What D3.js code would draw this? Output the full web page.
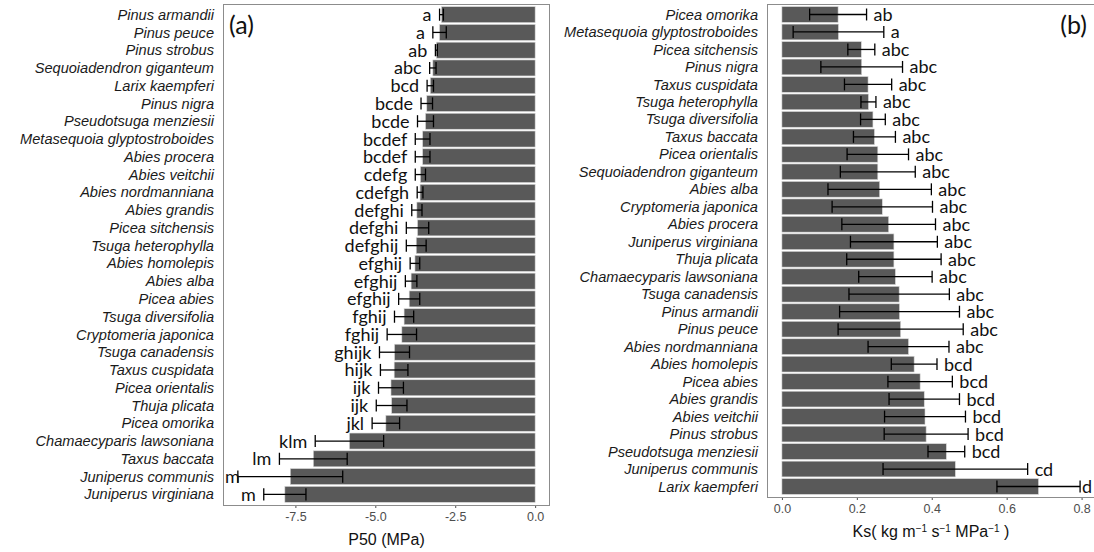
<!DOCTYPE html>
<html>
<head>
<meta charset="utf-8">
<script src="https://cdn.jsdelivr.net/npm/d3@7"></script>
<style>
  body { margin: 0; background: #fff; }
  svg { display: block; }
</style>
</head>
<body>
<div id="chart"></div>
<script>
// panel (a): P50, top to bottom
var speciesA = ["Pinus armandii", "Pinus peuce", "Pinus strobus", "Sequoiadendron giganteum",
  "Larix kaempferi", "Pinus nigra", "Pseudotsuga menziesii", "Metasequoia glyptostroboides",
  "Abies procera", "Abies veitchii", "Abies nordmanniana", "Abies grandis", "Picea sitchensis",
  "Tsuga heterophylla", "Abies homolepis", "Abies alba", "Picea abies", "Tsuga diversifolia",
  "Cryptomeria japonica", "Tsuga canadensis", "Taxus cuspidata", "Picea orientalis",
  "Thuja plicata", "Picea omorika", "Chamaecyparis lawsoniana", "Taxus baccata",
  "Juniperus communis", "Juniperus virginiana"];
var p50Mean = [-2.93, -2.99, -3.09, -3.20, -3.28, -3.39, -3.43, -3.52, -3.52, -3.59, -3.60, -3.70,
  -3.68, -3.72, -3.76, -3.88, -3.94, -4.10, -4.17, -4.40, -4.41, -4.51, -4.49, -4.67, -5.81,
  -6.94, -7.66, -7.83];
var p50Se = [0.06, 0.21, 0.03, 0.10, 0.10, 0.18, 0.25, 0.23, 0.23, 0.16, 0.09, 0.16, 0.35, 0.31,
  0.15, 0.18, 0.33, 0.30, 0.46, 0.47, 0.43, 0.39, 0.48, 0.43, 1.07, 1.06, 1.64, 0.66];
var p50Letters = ["a", "a", "ab", "abc", "bcd", "bcde", "bcde", "bcdef", "bcdef", "cdefg",
  "cdefgh", "defghi", "defghi", "defghij", "efghij", "efghij", "efghij", "fghij", "fghij",
  "ghijk", "hijk", "ijk", "ijk", "jkl", "klm", "lm", "m", "m"];
var p50Ticks = [-7.5, -5.0, -2.5, 0.0];

// panel (b): Ks, top to bottom
var speciesB = ["Picea omorika", "Metasequoia glyptostroboides", "Picea sitchensis", "Pinus nigra",
  "Taxus cuspidata", "Tsuga heterophylla", "Tsuga diversifolia", "Taxus baccata",
  "Picea orientalis", "Sequoiadendron giganteum", "Abies alba", "Cryptomeria japonica",
  "Abies procera", "Juniperus virginiana", "Thuja plicata", "Chamaecyparis lawsoniana",
  "Tsuga canadensis", "Pinus armandii", "Pinus peuce", "Abies nordmanniana", "Abies homolepis",
  "Picea abies", "Abies grandis", "Abies veitchii", "Pinus strobus", "Pseudotsuga menziesii",
  "Juniperus communis", "Larix kaempferi"];
var ksMean = [0.150, 0.151, 0.212, 0.213, 0.230, 0.231, 0.243, 0.247, 0.256, 0.256, 0.261, 0.268,
  0.285, 0.299, 0.299, 0.303, 0.313, 0.314, 0.317, 0.338, 0.353, 0.369, 0.380, 0.382, 0.385,
  0.439, 0.463, 0.685];
var ksSe = [0.076, 0.121, 0.036, 0.109, 0.063, 0.020, 0.033, 0.056, 0.082, 0.100, 0.138, 0.134,
  0.125, 0.116, 0.126, 0.098, 0.134, 0.160, 0.167, 0.108, 0.061, 0.086, 0.094, 0.108, 0.112,
  0.049, 0.193, 0.111];
var ksLetters = ["ab", "a", "abc", "abc", "abc", "abc", "abc", "abc", "abc", "abc", "abc", "abc",
  "abc", "abc", "abc", "abc", "abc", "abc", "abc", "abc", "bcd", "bcd", "bcd", "bcd", "bcd",
  "bcd", "cd", "d"];
var ksTicks = [0.0, 0.2, 0.4, 0.6, 0.8];

var W = 1094, H = 552;
var svg = d3.select("#chart").append("svg")
  .attr("width", W).attr("height", H)
  .style("background", "#fff");

function drawPanel(opt){
  var rows = opt.species.map(function(s, i){
    return {name: s, mean: opt.mean[i], se: opt.se[i], letter: opt.letters[i]};
  });

  // ggplot style 5% expansion
  var lo = Math.min(0, d3.min(rows, function(d){ return d.mean - d.se; }));
  var hi = Math.max(0, d3.max(rows, function(d){ return d.mean + d.se; }));
  var pad = (hi - lo) * 0.05;
  var x = d3.scaleLinear().domain([lo - pad, hi + pad]).range([opt.left, opt.right]);
  var y = d3.scaleBand().domain(opt.species)
    .range([opt.top, opt.bottom]).paddingInner(0.1).paddingOuter(0.15);

  var g = svg.append("g");

  g.selectAll(".bar").data(rows).enter().append("rect")
    .attr("class", "bar")
    .attr("x", function(d){ return Math.min(x(0), x(d.mean)); })
    .attr("width", function(d){ return Math.abs(x(d.mean) - x(0)); })
    .attr("y", function(d){ return y(d.name); })
    .attr("height", y.bandwidth())
    .attr("fill", "#595959")
    .attr("stroke", "#d9d9d9")
    .attr("stroke-width", 0.6);

  var cap = y.bandwidth() * 0.38;
  var eb = g.selectAll(".err").data(rows).enter().append("g").attr("class", "err")
    .attr("stroke", "#000").attr("stroke-width", 1.3);
  eb.append("line")
    .attr("x1", function(d){ return x(d.mean - d.se); })
    .attr("x2", function(d){ return x(d.mean + d.se); })
    .attr("y1", function(d){ return y(d.name) + y.bandwidth() / 2; })
    .attr("y2", function(d){ return y(d.name) + y.bandwidth() / 2; });
  [-1, 1].forEach(function(s){
    eb.append("line")
      .attr("x1", function(d){ return x(d.mean + s * d.se); })
      .attr("x2", function(d){ return x(d.mean + s * d.se); })
      .attr("y1", function(d){ return y(d.name) + y.bandwidth() / 2 - cap; })
      .attr("y2", function(d){ return y(d.name) + y.bandwidth() / 2 + cap; });
  });

  // significance letters
  var lt = g.selectAll(".letter").data(rows).enter().append("text")
    .attr("class", "letter")
    .attr("x", function(d){
      return opt.lettersLeft ? x(d.mean - d.se) - 8 : x(d.mean + d.se) + 7;
    })
    .attr("y", function(d){ return y(d.name) + y.bandwidth() / 2; })
    .attr("dy", "0.36em")
    .attr("text-anchor", opt.lettersLeft ? "end" : "start")
    .style("font-family", "Lato, 'Open Sans', sans-serif")
    .style("font-size", "18px")
    .attr("fill", "#111")
    .text(function(d){ return d.letter; });
  // keep letters inside the panel frame / page
  var maxRight = Math.min(opt.right, W) - 2;
  lt.each(function(){
    var w = this.getComputedTextLength();
    var xa = +this.getAttribute("x");
    if (opt.lettersLeft){
      if (xa - w < opt.left + 2) this.setAttribute("x", opt.left + 2 + w);
    } else {
      if (xa + w > maxRight) this.setAttribute("x", maxRight - w);
    }
  });

  // species labels
  g.selectAll(".ylab").data(rows).enter().append("text")
    .attr("class", "ylab")
    .attr("x", opt.left - 9)
    .attr("y", function(d){ return y(d.name) + y.bandwidth() / 2; })
    .attr("dy", "0.35em")
    .attr("text-anchor", "end")
    .style("font-family", "'Liberation Sans', Arial, sans-serif")
    .style("font-style", "italic")
    .style("font-size", "14.6px")
    .attr("fill", "#1a1a1a")
    .text(function(d){ return d.name; });

  // x axis
  var xAxis = d3.axisBottom(x).tickValues(opt.ticks).tickSize(3).tickPadding(4)
    .tickFormat(function(d){ return d.toFixed(1); });
  var ax = g.append("g").attr("transform", "translate(0," + opt.bottom + ")").call(xAxis);
  ax.select(".domain").remove();
  ax.selectAll(".tick line").attr("stroke", "#4d4d4d");
  ax.selectAll(".tick text")
    .style("font-family", "'Liberation Sans', Arial, sans-serif")
    .style("font-size", "12.5px")
    .attr("fill", "#4d4d4d");

  // frame
  g.append("rect")
    .attr("x", opt.left + 0.5).attr("y", opt.top + 0.5)
    .attr("width", opt.right - opt.left - 1).attr("height", opt.bottom - opt.top)
    .attr("fill", "none").attr("stroke", "#8c8c8c").attr("stroke-width", 1);

  // axis title
  var t = g.append("text")
    .attr("x", (opt.left + opt.right) / 2).attr("y", opt.titleY)
    .attr("text-anchor", "middle")
    .style("font-family", "'Liberation Sans', Arial, sans-serif")
    .style("font-size", "16px")
    .attr("fill", "#111");
  opt.title.forEach(function(part){
    var ts = t.append("tspan").text(part.t);
    if (part.sup) ts.attr("baseline-shift", "super").style("font-size", "10px");
  });

  // panel tag
  g.append("text")
    .attr("x", opt.tagX).attr("y", 34)
    .attr("text-anchor", opt.tagAnchor)
    .style("font-family", "Lato, 'Open Sans', sans-serif")
    .style("font-size", "25px")
    .attr("fill", "#111")
    .text(opt.tag);
}

drawPanel({
  species: speciesA, mean: p50Mean, se: p50Se, letters: p50Letters, ticks: p50Ticks,
  left: 223, right: 550, top: 4, bottom: 505, lettersLeft: true,
  titleY: 545, title: [{t: "P50 (MPa)"}], tag: "(a)", tagX: 229, tagAnchor: "start"
});

drawPanel({
  species: speciesB, mean: ksMean, se: ksSe, letters: ksLetters, ticks: ksTicks,
  left: 767, right: 1095, top: 4, bottom: 497, lettersLeft: false,
  titleY: 537,
  title: [{t: "Ks( kg m"}, {t: "\u22121", sup: true}, {t: " s"}, {t: "\u22121", sup: true},
    {t: " MPa"}, {t: "\u22121", sup: true}, {t: " )"}],
  tag: "(b)", tagX: 1087, tagAnchor: "end"
});
</script>
</body>
</html>
